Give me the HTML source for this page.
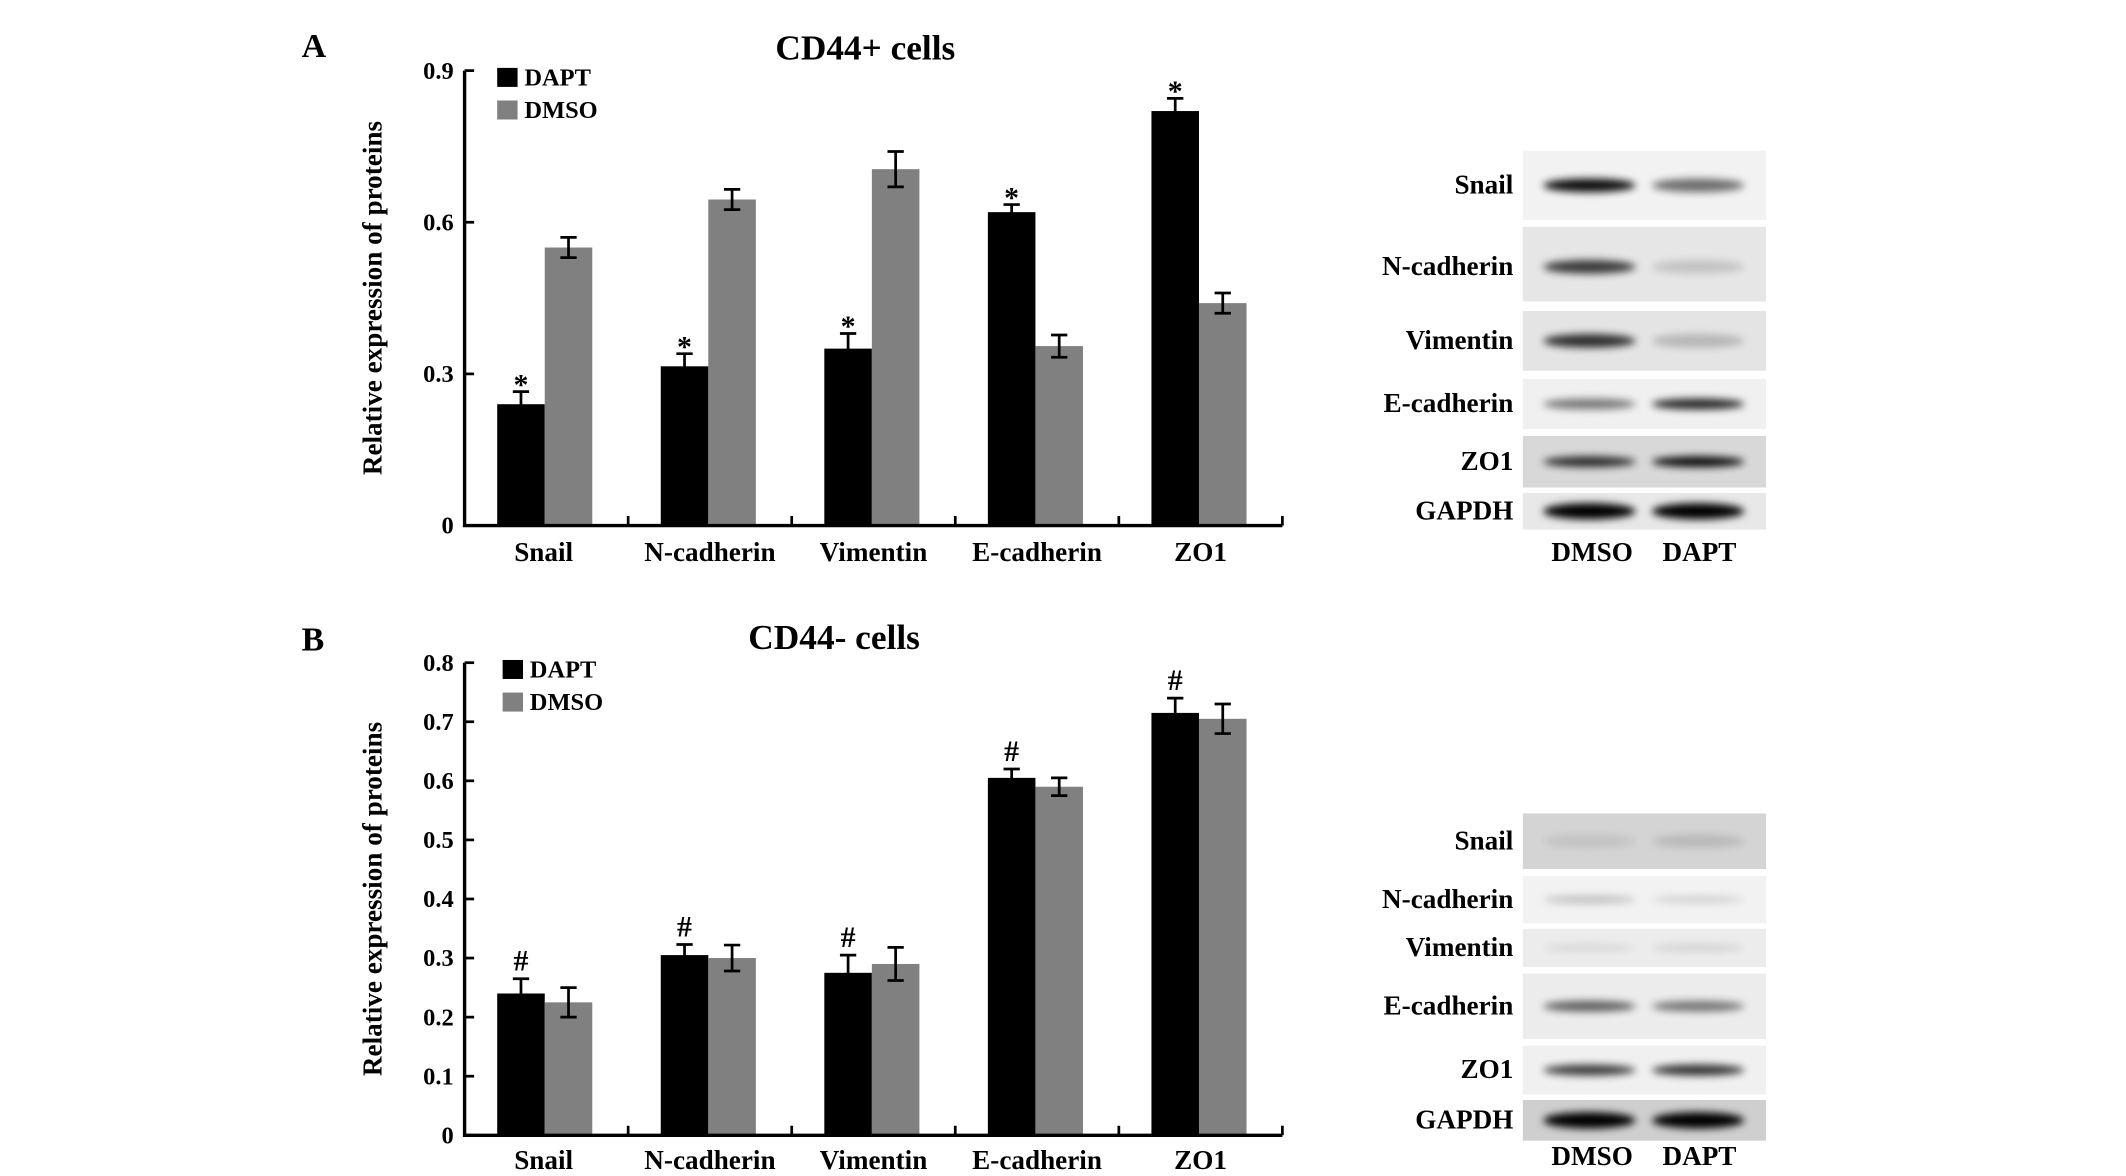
<!DOCTYPE html>
<html><head><meta charset="utf-8"><style>
html,body{margin:0;padding:0;background:#fff;}
svg{display:block;}
text{font-family:"Liberation Serif",serif;font-weight:bold;fill:#000;}
</style></head><body>
<svg id="fig" width="2126" height="1176" viewBox="0 0 1565 866" preserveAspectRatio="none" xmlns="http://www.w3.org/2000/svg">
<defs>
<filter id="blur" x="-20%" y="-100%" width="140%" height="300%"><feGaussianBlur stdDeviation="3"/></filter>
</defs>
<rect width="1565" height="866" fill="#fff"/>
<text x="222" y="42" font-size="25">A</text>
<text x="222" y="479" font-size="25">B</text>
<g id="chartA"></g>
<g id="chartB"></g>
<g id="blotA"></g>
<g id="blotB"></g>
</svg>
<script>
const categories = ["Snail","N-cadherin","Vimentin","E-cadherin","ZO1"];
const seriesNames = ["DAPT","DMSO"];
const aDapt = [0.24,0.315,0.35,0.62,0.82];
const aDaptErr = [0.025,0.025,0.03,0.015,0.025];
const aDmso = [0.55,0.645,0.705,0.355,0.44];
const aDmsoErr = [0.02,0.02,0.035,0.022,0.02];
const aTicks = [0,0.3,0.6,0.9];
const aTickLabels = ["0","0.3","0.6","0.9"];
const bDapt = [0.24,0.305,0.275,0.605,0.715];
const bDaptErr = [0.025,0.018,0.03,0.015,0.025];
const bDmso = [0.225,0.3,0.29,0.59,0.705];
const bDmsoErr = [0.025,0.022,0.028,0.015,0.025];
const bTicks = [0,0.1,0.2,0.3,0.4,0.5,0.6,0.7,0.8];
const bTickLabels = ["0","0.1","0.2","0.3","0.4","0.5","0.6","0.7","0.8"];

const NS="http://www.w3.org/2000/svg";
function mk(parent,tag,attrs,txt){const e=document.createElementNS(NS,tag);for(const k in attrs)e.setAttribute(k,attrs[k]);if(txt!==undefined)e.textContent=txt;parent.appendChild(e);return e;}

function drawChart(g,cfg){
  const x0=342,x1=944,y0=cfg.y0,yTop=cfg.yTop,max=cfg.max;
  const y=v=>y0-(v/max)*(y0-yTop);
  const gw=(x1-x0)/categories.length;
  const t=mk(g,'text',{x:cfg.titleX,y:cfg.titleY,'font-size':26,'text-anchor':'middle'},cfg.title);
  
  
  const yt=mk(g,'text',{x:0,y:0,'font-size':20,'text-anchor':'middle',transform:`translate(281,${(y0+yTop)/2}) rotate(-90)`},'Relative expression of proteins');
  
  
  const cols=['#000','#808080'];
  categories.forEach((c,i)=>{
    const gx=x0+i*gw+24;
    const vals=[cfg.d1[i],cfg.d2[i]],errs=[cfg.e1[i],cfg.e2[i]];
    vals.forEach((v,j)=>{
      const bx=gx+j*35;
      const r=mk(g,'rect',{x:bx,y:y(v),width:35,height:y0-y(v),fill:cols[j]});
      
      
      const cx=bx+17.5,yt2=y(v+errs[j]),yb=y(v-errs[j]);
      const eb=mk(g,'path',{d:`M${cx},${yt2}V${yb}M${cx-6},${yt2}H${cx+6}M${cx-6},${yb}H${cx+6}`,stroke:'#000','stroke-width':2,fill:'none'});
      
      
    });
    const m=mk(g,'text',{x:gx+17.5,y:y(cfg.d1[i]+cfg.e1[i])-cfg.markOff,'font-size':cfg.markSize,'text-anchor':'middle'},cfg.mark);
    
    
    const xl=mk(g,'text',{x:x0+i*gw+gw/2-(i==0?2:0),y:cfg.xlY,'font-size':20,'text-anchor':'middle'},c);
    
    
    const tk=mk(g,'line',{x1:x0+(i+1)*gw,x2:x0+(i+1)*gw,y1:y0,y2:y0-7,stroke:'#000','stroke-width':2});
    
    
  });
  const ax=mk(g,'path',{d:`M${x0},${yTop}V${y0}H${x1}`,stroke:'#000','stroke-width':2.5,fill:'none'});
  
  
  cfg.ticks.forEach((v,k)=>{
    const l=mk(g,'line',{x1:x0,x2:x0+7,y1:y(v),y2:y(v),stroke:'#000','stroke-width':2});
    
    
    const tl=mk(g,'text',{x:334,y:y(v)+6,'font-size':18,'text-anchor':'end'},cfg.tickLabels[k]);
    
    
  });
  seriesNames.forEach((s,j)=>{
    const ly=cfg.legY+j*24;
    const sq=mk(g,'rect',{x:cfg.legX,y:ly,width:15,height:14,fill:cols[j]});
    
    
    const lt=mk(g,'text',{x:cfg.legX+20,y:ly+13,'font-size':18},s);
    
    
  });
}
drawChart(document.getElementById('chartA'),{y0:387,yTop:52,max:0.9,d1:aDapt,e1:aDaptErr,d2:aDmso,e2:aDmsoErr,ticks:aTicks,tickLabels:aTickLabels,title:'CD44+ cells',titleX:637,titleY:44,xlY:413,legX:366,legY:50,mark:'*',markSize:22,markOff:-2});
drawChart(document.getElementById('chartB'),{y0:836,yTop:488,max:0.8,d1:bDapt,e1:bDaptErr,d2:bDmso,e2:bDmsoErr,ticks:bTicks,tickLabels:bTickLabels,title:'CD44- cells',titleX:614,titleY:478,xlY:861,legX:370,legY:486,mark:'#',markSize:22,markOff:6});

function drawBlot(g,rows,labY){
  rows.forEach(r=>{
    const bg=mk(g,'rect',{x:1121,y:r.y1,width:179,height:r.y2-r.y1,fill:r.bg});
    
    
    const cy=(r.y1+r.y2)/2+(r.off||0);
    [[1170,r.a],[1250,r.b]].forEach(([cx,op])=>{
      const b=mk(g,'ellipse',{cx:cx,cy:cy,rx:34,ry:r.h,fill:'#000',opacity:op,filter:'url(#blur)'});
      
      
    });
    const l=mk(g,'text',{x:1114,y:cy+6,'font-size':20,'text-anchor':'end'},r.name);
    
    
  });
  [['DMSO',1172],['DAPT',1251]].forEach(([n,x])=>{
    const t=mk(g,'text',{x:x,y:labY,'font-size':20,'text-anchor':'middle'},n);
    
    
  });
}
drawBlot(document.getElementById('blotA'),[
 {name:'Snail',y1:111,y2:162,bg:'#f2f2f2',a:0.95,b:0.55,h:5},
 {name:'N-cadherin',y1:167,y2:222,bg:'#e6e6e6',a:0.75,b:0.15,h:5,off:2},
 {name:'Vimentin',y1:229,y2:273,bg:'#e4e4e4',a:0.8,b:0.2,h:5},
 {name:'E-cadherin',y1:279,y2:316,bg:'#f0f0f0',a:0.5,b:0.85,h:4},
 {name:'ZO1',y1:321,y2:359,bg:'#d8d8d8',a:0.8,b:0.95,h:4},
 {name:'GAPDH',y1:363,y2:390,bg:'#e8e8e8',a:1,b:1,h:6}
],413);
drawBlot(document.getElementById('blotB'),[
 {name:'Snail',y1:599,y2:640,bg:'#d4d4d4',a:0.08,b:0.12,h:5},
 {name:'N-cadherin',y1:645,y2:680,bg:'#f2f2f2',a:0.2,b:0.12,h:3},
 {name:'Vimentin',y1:684,y2:712,bg:'#ececec',a:0.08,b:0.1,h:3},
 {name:'E-cadherin',y1:717,y2:765,bg:'#ececec',a:0.6,b:0.5,h:4},
 {name:'ZO1',y1:770,y2:806,bg:'#f0f0f0',a:0.75,b:0.8,h:4},
 {name:'GAPDH',y1:810,y2:840,bg:'#cfcfcf',a:1,b:1,h:6}
],858);
</script>
</body></html>
